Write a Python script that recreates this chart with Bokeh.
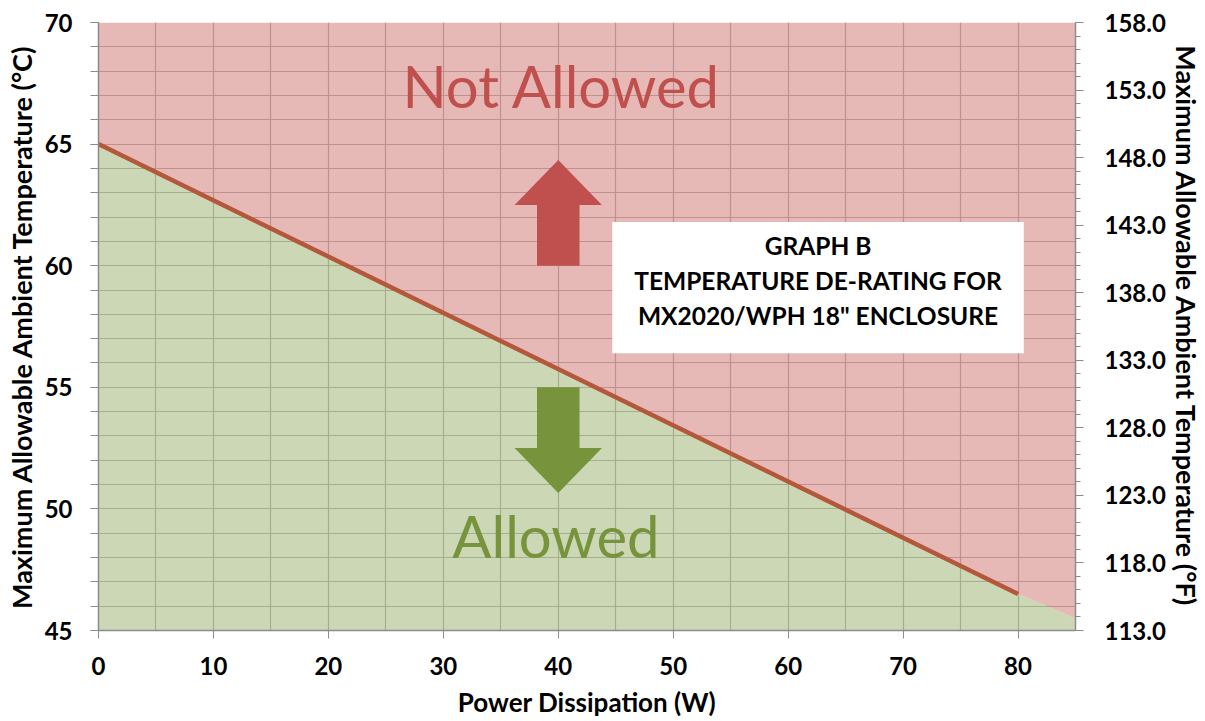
from bokeh.plotting import figure
from bokeh.models import Range1d, LinearAxis, FixedTicker, NumeralTickFormatter, Label
from bokeh.embed import file_html
from bokeh.resources import INLINE
from bokeh.core.properties import value

# ---- data ----
power_w = [0, 80]
derate_c = [65.0, 46.5]
# boundary of the allowed region (continues to the right edge of the chart)
boundary_w = [0, 80, 85]
boundary_c = [65.0, 46.5, 45.5]

x_ticks = [0, 10, 20, 30, 40, 50, 60, 70, 80]
x_grid = [0, 5, 10, 15, 20, 25, 30, 35, 40, 45, 50, 55, 60, 65, 70, 75, 80, 85]
y_ticks_c = [45, 50, 55, 60, 65, 70]
y_minor_c = list(range(45, 71))
y_ticks_f = [113.0, 118.0, 123.0, 128.0, 133.0, 138.0, 143.0, 148.0, 153.0, 158.0]
y_minor_f = list(range(113, 159))

box_lines = ["GRAPH B", "TEMPERATURE DE-RATING FOR", 'MX2020/WPH 18" ENCLOSURE']

FONT = "Lato"

p = figure(width=1205, height=721, output_backend="svg", toolbar_location=None,
           x_range=Range1d(0, 85), y_range=Range1d(45, 70),
           min_border_left=98, min_border_right=128, min_border_top=22, min_border_bottom=91)
p.outline_line_color = None
p.background_fill_color = "white"

# grids
p.xgrid.ticker = FixedTicker(ticks=x_grid)
p.ygrid.ticker = FixedTicker(ticks=y_minor_c)
for g in (p.xgrid, p.ygrid):
    g.grid_line_color = "#7a7a7a"
    g.grid_line_width = 1.2
    g.grid_line_alpha = 1.0

# regions
p.varea(x=boundary_w, y1=boundary_c, y2=[70] * len(boundary_w),
        fill_color="#db9b99", fill_alpha=0.7)
p.varea(x=boundary_w, y1=[45] * len(boundary_w), y2=boundary_c,
        fill_color="#b6c695", fill_alpha=0.7)

# de-rating line
p.line(power_w, derate_c, line_width=4.5, line_color="#b4583c")

# arrows
ax_c = 40.0
shaft_hw, head_hw = 1.85, 3.8
up = dict(base=60.0, neck=62.5, tip=64.35)
dn = dict(base=55.0, neck=52.5, tip=50.65)

def arrow(a):
    xs = [ax_c - shaft_hw, ax_c - shaft_hw, ax_c - head_hw, ax_c, ax_c + head_hw, ax_c + shaft_hw, ax_c + shaft_hw]
    ys = [a["base"], a["neck"], a["neck"], a["tip"], a["neck"], a["neck"], a["base"]]
    return xs, ys

xs_u, ys_u = arrow(up)
xs_d, ys_d = arrow(dn)
p.patch(xs_u, ys_u, fill_color="#c0504d", line_color=None)
p.patch(xs_d, ys_d, fill_color="#77933c", line_color=None)

# text box
p.quad(left=[44.7], right=[80.5], bottom=[56.4], top=[61.8], fill_color="white", line_color=None)
p.text(x=[62.6] * 3, y=[60.83, 59.39, 57.95], text=box_lines,
       text_font=value(FONT), text_font_style="bold", text_font_size="24.5px",
       text_align="center", text_baseline="middle", text_color="black")

# region labels
p.add_layout(Label(x=40.3, y=67.41, text="Not Allowed", text_font=FONT, text_font_size="58px",
                   text_color="#c0504d", text_align="center", text_baseline="middle"))
p.add_layout(Label(x=39.8, y=48.9, text="Allowed", text_font=FONT, text_font_size="58px",
                   text_color="#77933c", text_align="center", text_baseline="middle"))

# axes
def style_axis(a, minor_out, title_size):
    a.axis_line_color = "#8c8c8c"
    a.axis_line_width = 1.5
    a.major_tick_line_color = "#8c8c8c"
    a.minor_tick_line_color = "#8c8c8c"
    a.major_tick_in = 0
    a.major_tick_out = 8
    a.minor_tick_in = 0
    a.minor_tick_out = minor_out
    a.major_label_text_font = FONT
    a.major_label_text_font_style = "bold"
    a.major_label_text_font_size = "24px"
    a.major_label_text_color = "black"
    a.axis_label_text_font = FONT
    a.axis_label_text_font_style = "bold"
    a.axis_label_text_font_size = title_size
    a.axis_label_text_color = "black"

xa = p.xaxis[0]
xa.ticker = FixedTicker(ticks=x_ticks)
style_axis(xa, 0, "26px")
xa.axis_label = "Power Dissipation (W)"
xa.major_label_standoff = 18
xa.axis_label_standoff = 8

ya = p.yaxis[0]
ya.ticker = FixedTicker(ticks=y_ticks_c, minor_ticks=y_minor_c)
style_axis(ya, 8, "27px")
ya.axis_label = "Maximum Allowable Ambient Temperature (°C)"
ya.major_label_standoff = 18
ya.axis_label_standoff = 4

p.extra_y_ranges = {"f": Range1d(113, 158)}
ra = LinearAxis(y_range_name="f", ticker=FixedTicker(ticks=y_ticks_f, minor_ticks=y_minor_f),
                formatter=NumeralTickFormatter(format="0.0"))
style_axis(ra, 5, "27px")
ra.axis_label = "Maximum Allowable Ambient Temperature (°F)"
ra.major_label_standoff = 21
ra.axis_label_standoff = 1
p.add_layout(ra, "right")

open("out.html", "w").write(file_html(p, INLINE))
